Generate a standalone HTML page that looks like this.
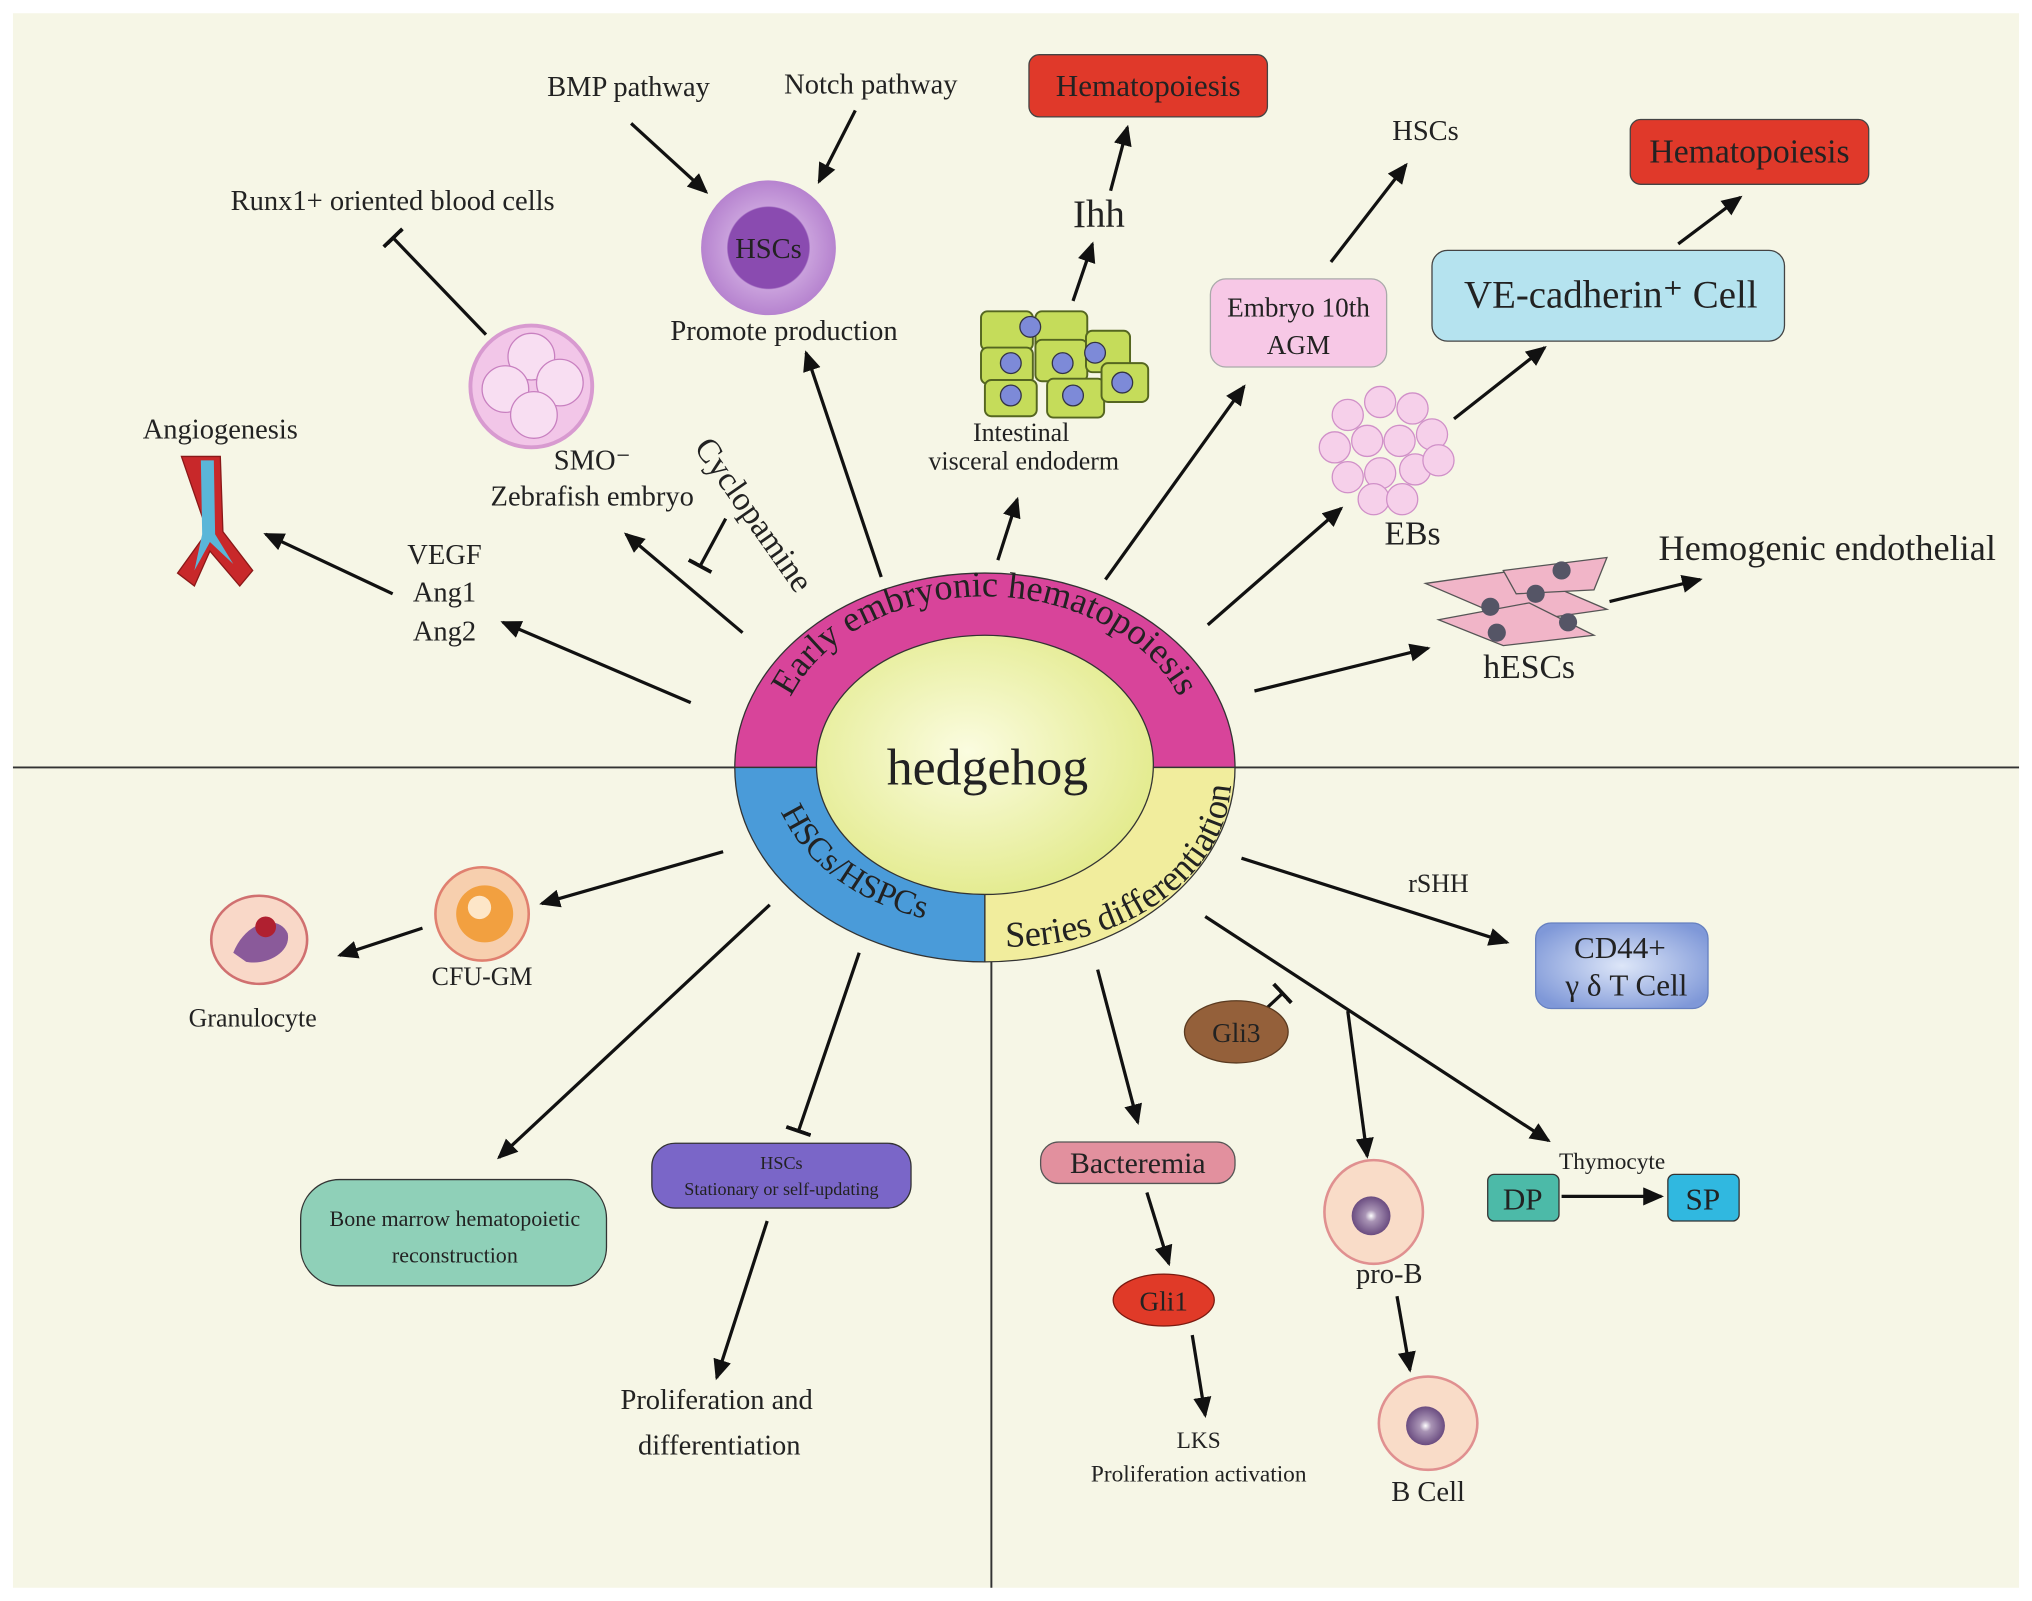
<!DOCTYPE html><html><head><meta charset="utf-8"><style>html,body{margin:0;padding:0;background:#fff}svg{display:block}text{font-family:"Liberation Serif",serif;fill:#222}</style></head><body>
<svg width="2032" height="1601" viewBox="0 0 1568 1235" xmlns="http://www.w3.org/2000/svg">
<defs>
<marker id="A" markerWidth="16" markerHeight="14" refX="14" refY="7" orient="auto" markerUnits="userSpaceOnUse"><path d="M0,0 L16,7 L0,14 z" fill="#111"/></marker>
<marker id="T" markerWidth="4" markerHeight="20" refX="2" refY="10" orient="auto" markerUnits="userSpaceOnUse"><rect x="0" y="0" width="3" height="20" fill="#111"/></marker>
<radialGradient id="core" cx="0.45" cy="0.45" r="0.6"><stop offset="0" stop-color="#fbfce0"/><stop offset="1" stop-color="#e2ea8a"/></radialGradient>
<radialGradient id="cd" cx="0.5" cy="0.5" r="0.6"><stop offset="0" stop-color="#dde6f8"/><stop offset="1" stop-color="#7f98d8"/></radialGradient>
<radialGradient id="hsc" cx="0.5" cy="0.5" r="0.5"><stop offset="0.6" stop-color="#8a4bb0"/><stop offset="0.62" stop-color="#c9a0dc"/><stop offset="1" stop-color="#b683cf"/></radialGradient>
<radialGradient id="cell" cx="0.5" cy="0.5" r="0.5"><stop offset="0" stop-color="#fff"/><stop offset="0.3" stop-color="#a994b5"/><stop offset="1" stop-color="#6a4c80"/></radialGradient>
<path id="topArc" d="M600,580 A160,120 0 0 1 920,580"/>
<path id="blArc" d="M600,620 A170,130 0 0 0 720,710"/>
<path id="brArc" d="M770,730 A170,130 0 0 0 950,600"/>
</defs>
<rect width="1568" height="1235" fill="#fff"/>
<rect x="10" y="10" width="1548" height="1215" fill="#f6f6e6"/>
<line x1="10" y1="592" x2="1558" y2="592" stroke="#333" stroke-width="1.5"/>
<line x1="765" y1="735" x2="765" y2="1225" stroke="#333" stroke-width="1.5"/>
<path d="M567,592 A193,150 0 0 1 953,592 z" fill="#d8449a" stroke="#333"/>
<path d="M567,592 A193,150 0 0 0 760,742 L760,592 z" fill="#4a9bd9" stroke="#333"/>
<path d="M953,592 A193,150 0 0 1 760,742 L760,592 z" fill="#f1ed9d" stroke="#333"/>
<ellipse cx="760" cy="590" rx="130" ry="100" fill="url(#core)" stroke="#333"/>
<text x="762" y="605" font-size="40" text-anchor="middle" fill="#111">hedgehog</text>
<text font-size="28"><textPath href="#topArc" startOffset="50%" text-anchor="middle">Early embryonic hematopoiesis</textPath></text>
<text font-size="26"><textPath href="#blArc" startOffset="50%" text-anchor="middle">HSCs/HSPCs</textPath></text>
<text font-size="28"><textPath href="#brArc" startOffset="50%" text-anchor="middle">Series differentiation</textPath></text>
<g stroke="#111" stroke-width="2.5" fill="none" marker-end="url(#A)">
<line x1="533" y1="542" x2="388" y2="480"/>
<line x1="303" y1="458" x2="205" y2="412"/>
<line x1="573" y1="488" x2="483" y2="412"/>
<line x1="680" y1="445" x2="622" y2="272"/>
<line x1="770" y1="432" x2="785" y2="385"/>
<line x1="853" y1="447" x2="960" y2="298"/>
<line x1="932" y1="482" x2="1035" y2="392"/>
<line x1="968" y1="533" x2="1102" y2="500"/>
<line x1="1242" y1="464" x2="1312" y2="447"/>
<line x1="1122" y1="323" x2="1192" y2="268"/>
<line x1="1295" y1="188" x2="1343" y2="152"/>
<line x1="1027" y1="202" x2="1085" y2="127"/>
<line x1="828" y1="232" x2="843" y2="188"/>
<line x1="857" y1="147" x2="870" y2="98"/>
<line x1="487" y1="95" x2="545" y2="148"/>
<line x1="660" y1="85" x2="632" y2="140"/>
<line x1="558" y1="657" x2="418" y2="697"/>
<line x1="326" y1="716" x2="262" y2="737"/>
<line x1="594" y1="698" x2="385" y2="893"/>
<line x1="592" y1="942" x2="553" y2="1063"/>
<line x1="847" y1="748" x2="878" y2="866"/>
<line x1="885" y1="920" x2="902" y2="975"/>
<line x1="920" y1="1030" x2="930" y2="1092"/>
<line x1="958" y1="662" x2="1163" y2="727"/>
<line x1="930" y1="707" x2="1195" y2="880"/>
<line x1="1040" y1="780" x2="1055" y2="892"/>
<line x1="1078" y1="1000" x2="1088" y2="1057"/>
<line x1="1205" y1="923" x2="1282" y2="923"/>
</g>
<g stroke="#111" stroke-width="2.5" marker-end="url(#T)">
<line x1="375" y1="258" x2="303" y2="183"/>
<line x1="560" y1="400" x2="540" y2="437"/>
<line x1="663" y1="735" x2="616" y2="873"/>
<line x1="975" y1="780" x2="990" y2="766"/>
</g>
<g font-size="22">
<text x="485" y="74" text-anchor="middle">BMP pathway</text>
<text x="672" y="72" text-anchor="middle">Notch pathway</text>
<text x="303" y="162" text-anchor="middle">Runx1+ oriented blood cells</text>
<text x="605" y="262" text-anchor="middle">Promote production</text>
<text x="170" y="338" text-anchor="middle">Angiogenesis</text>
<text x="457" y="362" text-anchor="middle">SMO⁻</text>
<text x="457" y="390" text-anchor="middle">Zebrafish embryo</text>
<text x="343" y="435" text-anchor="middle">VEGF</text>
<text x="343" y="464" text-anchor="middle">Ang1</text>
<text x="343" y="494" text-anchor="middle">Ang2</text>
<text x="1100" y="108" text-anchor="middle">HSCs</text>
<text x="1090" y="420" text-anchor="middle" font-size="26">EBs</text>
<text x="1180" y="523" text-anchor="middle" font-size="26">hESCs</text>
<text x="1410" y="432" text-anchor="middle" font-size="28">Hemogenic endothelial</text>
<text x="848" y="175" text-anchor="middle" font-size="30">Ihh</text>
<text x="788" y="340" text-anchor="middle" font-size="20">Intestinal</text>
<text x="790" y="362" text-anchor="middle" font-size="20">visceral endoderm</text>
</g>
<text transform="translate(535,345) rotate(55)" font-size="26">Cyclopamine</text>
<rect x="794" y="42" width="184" height="48" rx="8" fill="#e0392a" stroke="#444"/>
<text x="886" y="74" text-anchor="middle" font-size="24" fill="#fff">Hematopoiesis</text>
<rect x="1258" y="92" width="184" height="50" rx="8" fill="#e0392a" stroke="#444"/>
<text x="1350" y="125" text-anchor="middle" font-size="26" fill="#fff">Hematopoiesis</text>
<rect x="1105" y="193" width="272" height="70" rx="12" fill="#b5e3ef" stroke="#444"/>
<text x="1243" y="237" text-anchor="middle" font-size="30">VE-cadherin⁺ Cell</text>
<rect x="934" y="215" width="136" height="68" rx="12" fill="#f7c8e6" stroke="#aaa"/>
<text x="1002" y="244" text-anchor="middle" font-size="21">Embryo 10th</text>
<text x="1002" y="273" text-anchor="middle" font-size="21">AGM</text>
<circle cx="593" cy="191" r="52" fill="url(#hsc)"/>
<text x="593" y="199" text-anchor="middle" font-size="22">HSCs</text>
<circle cx="410" cy="298" r="47" fill="#f2c6e8" stroke="#d89ad0" stroke-width="3"/>
<g fill="#f8def2" stroke="#c880c0"><circle cx="410" cy="275" r="18"/><circle cx="390" cy="300" r="18"/><circle cx="432" cy="295" r="18"/><circle cx="412" cy="320" r="18"/></g>
<path d="M140,352 L170,352 L172,410 L195,440 L185,452 L162,425 L150,452 L137,442 L160,410 Z" fill="#c8282a" stroke="#8a1818"/>
<path d="M155,355 L165,355 L166,412 L180,435 L162,418 L150,440 L156,412 Z" fill="#5ab6d8"/>
<g fill="#c5dc5a" stroke="#556620" stroke-width="1.5">
<rect x="757" y="240" width="40" height="30" rx="5"/><rect x="799" y="240" width="40" height="30" rx="5"/><rect x="757" y="268" width="40" height="28" rx="5"/><rect x="799" y="262" width="40" height="32" rx="5"/><rect x="838" y="255" width="34" height="32" rx="5"/><rect x="760" y="293" width="40" height="28" rx="5"/><rect x="808" y="292" width="44" height="30" rx="5"/><rect x="850" y="280" width="36" height="30" rx="5"/>
</g>
<g fill="#7d8ad8" stroke="#334"><circle cx="795" cy="252" r="8"/><circle cx="820" cy="280" r="8"/><circle cx="780" cy="280" r="8"/><circle cx="845" cy="272" r="8"/><circle cx="780" cy="305" r="8"/><circle cx="828" cy="305" r="8"/><circle cx="866" cy="295" r="8"/></g>
<g fill="#f6d0ea" stroke="#d090c8">
<circle cx="1040" cy="320" r="12"/><circle cx="1065" cy="310" r="12"/><circle cx="1090" cy="315" r="12"/><circle cx="1105" cy="335" r="12"/><circle cx="1030" cy="345" r="12"/><circle cx="1055" cy="340" r="12"/><circle cx="1080" cy="340" r="12"/><circle cx="1040" cy="368" r="12"/><circle cx="1065" cy="365" r="12"/><circle cx="1092" cy="362" r="12"/><circle cx="1110" cy="355" r="12"/><circle cx="1060" cy="385" r="12"/><circle cx="1082" cy="385" r="12"/>
</g>
<g fill="#f1b5c8" stroke="#555">
<path d="M1100,450 L1170,440 L1240,470 L1170,480 Z"/><path d="M1110,478 L1180,465 L1230,490 L1160,498 Z"/><path d="M1160,440 L1240,430 L1230,455 L1170,458 Z"/>
</g>
<g fill="#556"><circle cx="1150" cy="468" r="7"/><circle cx="1205" cy="440" r="7"/><circle cx="1185" cy="458" r="7"/><circle cx="1155" cy="488" r="7"/><circle cx="1210" cy="480" r="7"/></g>
<circle cx="372" cy="705" r="36" fill="#f7cfae" stroke="#e08070" stroke-width="2"/>
<circle cx="374" cy="705" r="22" fill="#f2a040"/><circle cx="370" cy="700" r="9" fill="#fde6c8"/>
<text x="372" y="760" text-anchor="middle" font-size="20">CFU-GM</text>
<ellipse cx="200" cy="725" rx="37" ry="34" fill="#f9d8c8" stroke="#d07070" stroke-width="2"/>
<path d="M180,735 C190,710 215,705 222,720 C225,735 205,745 190,742 Z" fill="#8a5a9a"/>
<circle cx="205" cy="715" r="8" fill="#b02030"/>
<text x="195" y="792" text-anchor="middle" font-size="20">Granulocyte</text>
<rect x="232" y="910" width="236" height="82" rx="30" fill="#8fd0b8" stroke="#333"/>
<text x="351" y="946" text-anchor="middle" font-size="17">Bone marrow hematopoietic</text>
<text x="351" y="974" text-anchor="middle" font-size="17">reconstruction</text>
<rect x="503" y="882" width="200" height="50" rx="18" fill="#7a66c8" stroke="#333"/>
<text x="603" y="902" text-anchor="middle" font-size="14">HSCs</text>
<text x="603" y="922" text-anchor="middle" font-size="14">Stationary or self-updating</text>
<text x="553" y="1087" text-anchor="middle" font-size="22">Proliferation and</text>
<text x="555" y="1122" text-anchor="middle" font-size="22">differentiation</text>
<rect x="1185" y="712" width="133" height="66" rx="12" fill="url(#cd)" stroke="#6680c0"/>
<text x="1250" y="739" text-anchor="middle" font-size="24">CD44+</text>
<text x="1255" y="768" text-anchor="middle" font-size="24">γ  δ T Cell</text>
<text x="1110" y="688" text-anchor="middle" font-size="20">rSHH</text>
<ellipse cx="954" cy="796" rx="40" ry="24" fill="#94603a" stroke="#5a3a20"/>
<text x="954" y="804" text-anchor="middle" font-size="21">Gli3</text>
<rect x="803" y="881" width="150" height="32" rx="14" fill="#e2909e" stroke="#555"/>
<text x="878" y="905" text-anchor="middle" font-size="23">Bacteremia</text>
<ellipse cx="898" cy="1003" rx="39" ry="20" fill="#e03a28" stroke="#7a1a10"/>
<text x="898" y="1011" text-anchor="middle" font-size="21">Gli1</text>
<text x="925" y="1117" text-anchor="middle" font-size="18">LKS</text>
<text x="925" y="1143" text-anchor="middle" font-size="18">Proliferation activation</text>
<ellipse cx="1060" cy="935" rx="38" ry="40" fill="#f9dcc8" stroke="#e09090" stroke-width="2"/>
<circle cx="1058" cy="938" r="15" fill="url(#cell)"/>
<text x="1072" y="990" text-anchor="middle" font-size="22">pro-B</text>
<ellipse cx="1102" cy="1098" rx="38" ry="36" fill="#f9dcc8" stroke="#e09090" stroke-width="2"/>
<circle cx="1100" cy="1100" r="15" fill="url(#cell)"/>
<text x="1102" y="1158" text-anchor="middle" font-size="22">B Cell</text>
<text x="1244" y="902" text-anchor="middle" font-size="18">Thymocyte</text>
<rect x="1148" y="906" width="55" height="36" rx="5" fill="#4cbaa8" stroke="#333"/>
<text x="1175" y="933" text-anchor="middle" font-size="24">DP</text>
<rect x="1287" y="906" width="55" height="36" rx="5" fill="#30b8e0" stroke="#333"/>
<text x="1314" y="933" text-anchor="middle" font-size="24">SP</text>
</svg>
</body></html>
